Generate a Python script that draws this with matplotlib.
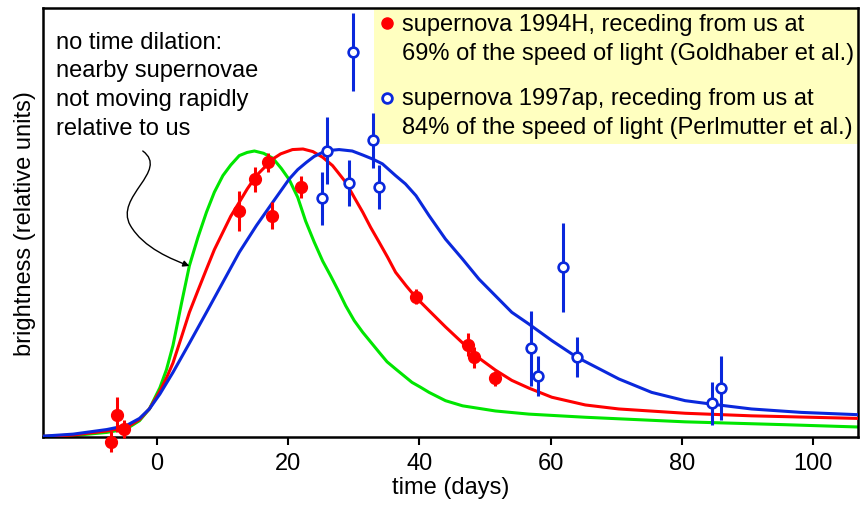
import matplotlib.pyplot as plt
from matplotlib.patches import FancyArrowPatch, Rectangle
from matplotlib.path import Path

plt.rcParams['font.family'] = ['Liberation Sans', 'DejaVu Sans']

# template light curves
green_t = [-17.3, -12.7, -7.6, -4.6, -2.6, -1.1, 0.5, 1.5, 2.5, 3.8, 5.0, 6.3, 7.6, 8.8, 10.1,
           11.3, 12.6, 13.8, 14.9, 16.3, 17.7, 19.0, 20.2, 21.5, 22.7, 24.0, 25.3, 26.5, 27.8,
           28.8, 30.1, 31.4, 33.9, 35.1, 36.4, 38.9, 40.2, 41.5, 44.0, 46.6, 51.6, 56.7,
           65.3, 80.5, 95.7, 106.8]
green_b = [0.002, 0.005, 0.016, 0.028, 0.057, 0.098, 0.172, 0.235, 0.320, 0.468, 0.599, 0.698,
           0.786, 0.856, 0.914, 0.951, 0.984, 0.995, 1.000, 0.992, 0.975, 0.939, 0.900, 0.838,
           0.755, 0.682, 0.615, 0.564, 0.506, 0.459, 0.407, 0.366, 0.296, 0.263, 0.238, 0.191,
           0.174, 0.156, 0.127, 0.109, 0.091, 0.080, 0.069, 0.053, 0.043, 0.035]

red_t = [-17.3, -12.7, -7.6, -4.6, -2.6, -1.1, 0.5, 1.5, 2.5, 3.8, 5.0, 6.3, 7.6, 8.8, 10.1, 11.3,
         12.6, 13.8, 15.2, 17.7, 18.9, 20.7, 22.3, 23.8, 25.3, 26.8, 27.6, 28.8, 30.1, 31.4,
         32.6, 33.9, 35.2, 36.4, 38.0, 39.5, 41.5, 44.0, 46.6, 49.1, 51.6, 54.1, 56.7, 60.2,
         65.3, 70.4, 80.5, 90.6, 106.8]
red_b = [0.002, 0.007, 0.021, 0.033, 0.061, 0.098, 0.160, 0.206, 0.259, 0.350, 0.436, 0.512,
         0.587, 0.655, 0.716, 0.772, 0.821, 0.867, 0.914, 0.972, 0.990, 1.005, 1.007, 0.998,
         0.978, 0.949, 0.926, 0.891, 0.838, 0.786, 0.733, 0.681, 0.628, 0.576, 0.529, 0.488,
         0.442, 0.385, 0.329, 0.276, 0.234, 0.198, 0.171, 0.139, 0.112, 0.098, 0.083, 0.074,
         0.065]

blue_t = [-17.3, -12.7, -7.6, -4.6, -2.6, -1.1, 0.5, 2.5, 5.0, 7.6, 10.1, 12.6, 15.2, 17.7, 20.2,
          21.5, 22.8, 24.0, 25.8, 27.8, 29.8, 31.4, 32.9, 34.4, 36.4, 37.9, 39.5, 40.5, 41.5,
          44.0, 46.6, 49.1, 51.6, 54.1, 56.7, 60.2, 64.0, 70.4, 75.4, 80.5, 84.5, 90.6, 98.2,
          106.8]
blue_b = [0.003, 0.010, 0.026, 0.040, 0.065, 0.098, 0.150, 0.226, 0.328, 0.436, 0.541, 0.646,
          0.739, 0.821, 0.902, 0.935, 0.960, 0.981, 1.001, 1.005, 1.000, 0.986, 0.972, 0.955,
          0.914, 0.885, 0.844, 0.809, 0.774, 0.692, 0.622, 0.552, 0.494, 0.436, 0.395, 0.337,
          0.279, 0.203, 0.156, 0.127, 0.115, 0.098, 0.086, 0.078]

# supernova 1994H (filled red)
sn94_t = [-7.0, -6.0, -5.0, 12.5, 15.0, 16.9, 17.6, 22.0, 39.5, 47.5, 48.4, 51.5]
sn94_b = [-0.016, 0.078, 0.028, 0.791, 0.901, 0.960, 0.774, 0.873, 0.491, 0.322, 0.279, 0.206]
sn94_err = [0.038, 0.061, 0.033, 0.070, 0.044, 0.033, 0.047, 0.038, 0.025, 0.040, 0.037, 0.026]

# supernova 1997ap (open blue)
sn97_t = [25.2, 26.0, 29.3, 29.9, 33.0, 33.8, 57.1, 58.1, 61.9, 64.1, 84.6, 86.0]
sn97_b = [0.835, 1.001, 0.888, 1.347, 1.037, 0.874, 0.311, 0.214, 0.593, 0.281, 0.118, 0.172]
sn97_err = [0.093, 0.117, 0.079, 0.137, 0.096, 0.077, 0.131, 0.069, 0.157, 0.070, 0.076, 0.112]

legend_lines = ['supernova 1994H, receding from us at',
                '69% of the speed of light (Goldhaber et al.)',
                'supernova 1997ap, receding from us at',
                '84% of the speed of light (Perlmutter et al.)']
note_lines = ['no time dilation:', 'nearby supernovae', 'not moving rapidly', 'relative to us']

RED = '#ff0000'
GREEN = '#00e600'
BLUE = '#0a28dc'

fig = plt.figure(figsize=(8.63, 5.06), dpi=100)
ax = fig.add_axes([0.0498, 0.1344, 0.9442, 0.8478])

ax.plot(green_t, green_b, color=GREEN, lw=2.2, solid_joinstyle='round', zorder=2)
ax.plot(red_t, red_b, color=RED, lw=2.2, solid_joinstyle='round', zorder=3)
ax.plot(blue_t, blue_b, color=BLUE, lw=2.2, solid_joinstyle='round', zorder=4)

eb = ax.errorbar(sn94_t, sn94_b, yerr=sn94_err, fmt='o', color=RED, ms=8.5, elinewidth=2.2,
                 capsize=0, zorder=5)
eb.lines[0].set_clip_on(False)
for art in eb.lines[2]:
    art.set_clip_on(False)
ax.errorbar(sn97_t, sn97_b, yerr=sn97_err, fmt='o', color=BLUE, mfc='white', mec=BLUE,
            mew=1.9, ms=7, elinewidth=2.2, capsize=0, zorder=6)

ax.set_xlim(-17.3, 106.8)
ax.set_ylim(0, 1.5)
ax.set_xticks([0, 20, 40, 60, 80, 100])
ax.set_yticks([])
ax.tick_params(axis='x', direction='out', length=6, width=1.5, labelsize=17, pad=5)
for s in ax.spines.values():
    s.set_linewidth(1.8)
ax.set_xlabel('time (days)', fontsize=17, labelpad=1)
ax.set_ylabel('brightness (relative units)', fontsize=17, labelpad=5)

# legend box
ax.add_patch(Rectangle((0.406, 0.684), 0.594, 0.316, transform=ax.transAxes,
                       facecolor='#ffffc0', edgecolor='none', zorder=1))
ax.plot([0.4227], [0.965], 'o', color=RED, ms=8, transform=ax.transAxes, zorder=7)
ax.plot([0.4227], [0.790], 'o', mfc='white', mec=BLUE, mew=2, ms=7, transform=ax.transAxes,
        zorder=7)
for line, y in zip(legend_lines, [0.949, 0.881, 0.777, 0.709]):
    ax.text(0.441, y, line, transform=ax.transAxes, fontsize=17, va='baseline', ha='left',
            zorder=7)

for line, y in zip(note_lines, [0.906, 0.8415, 0.774, 0.706]):
    ax.text(0.016, y, line, transform=ax.transAxes, fontsize=17, va='baseline', ha='left')

# curvy arrow pointing at the green curve
verts = [(-2.1, 1.0), (2.0, 0.93), (-6.5, 0.84), (-4.0, 0.74),
         (-2.0, 0.66), (2.5, 0.62), (5.0, 0.598)]
codes = [Path.MOVETO, Path.CURVE4, Path.CURVE4, Path.CURVE4, Path.CURVE4, Path.CURVE4, Path.CURVE4]
arrow = FancyArrowPatch(path=Path(verts, codes), arrowstyle='-|>', mutation_scale=9,
                        color='black', lw=1.0, zorder=8)
ax.add_patch(arrow)

fig.savefig('out.png', dpi=100)
